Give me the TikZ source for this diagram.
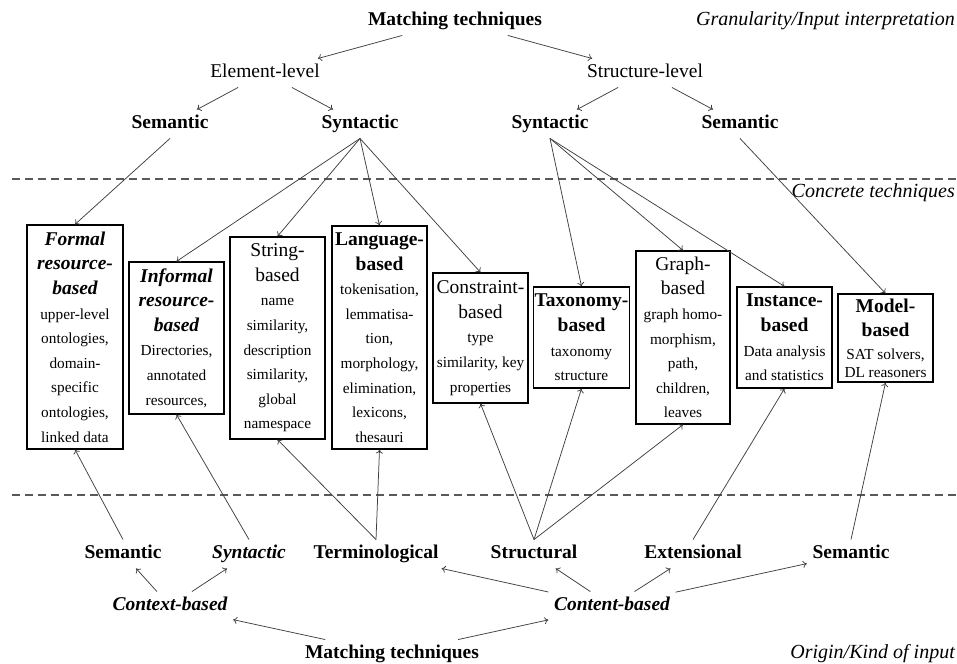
\documentclass[tikz,border=0pt]{standalone}
\usepackage{fontspec}
\setmainfont{Liberation Serif}
\usetikzlibrary{arrows.meta}
\newcommand\boxtitle{\fontsize{19.5}{24.6}\selectfont}
\begin{document}
\begin{tikzpicture}[x=1pt,y=-1pt,
  lbl/.style={font=\fontsize{19.5}{22}\selectfont\bfseries, inner sep=5.5pt, text height=13.6pt, text depth=3.9pt},
  lvl/.style={lbl, font=\fontsize{19.5}{22}\selectfont},
  lbli/.style={lbl, font=\fontsize{19.5}{22}\selectfont\bfseries\itshape},
  note/.style={font=\fontsize{20}{22}\selectfont\itshape, anchor=east, inner sep=0pt},
  tbox/.style={draw, line width=1.2pt, inner sep=1pt, align=center, font=\fontsize{15.3}{24.6}\selectfont},
  arr/.style={draw=black!75, line width=0.75pt, -{To[length=4pt,width=7pt]}},
  sep/.style={draw=black!65, line width=1.3pt, dash pattern=on 8pt off 5pt}
]
\useasboundingbox (0,0) rectangle (957,663);
\fill[white] (0,0) rectangle (957,663);

% separators
\draw[sep] (12,179) -- (957,179);
\draw[sep] (12,495) -- (957,495);

% top labels
\node[lbl] (mt1) at (455,21) {Matching techniques};
\node[note] (gran) at (955,21) {Granularity/Input interpretation};
\node[lvl] (el) at (265,73) {Element-level};
\node[lvl] (sl) at (645,73) {Structure-level};
\node[lbl] (sem1) at (170,124) {Semantic};
\node[lbl] (syn1) at (360,124) {Syntactic};
\node[lbl] (syn2) at (550,124) {Syntactic};
\node[lbl] (sem2) at (740,124) {Semantic};
\node[note] (conc) at (955,193) {Concrete techniques};

% boxes
\node[tbox, minimum width=96pt, minimum height=224pt] (formal) at (75,337)
  {{\boxtitle\bfseries\itshape Formal}\\{\boxtitle\bfseries\itshape resource-}\\{\boxtitle\bfseries\itshape based}\\upper-level\\ontologies,\\domain-\\specific\\ontologies,\\linked data};
\node[tbox, minimum width=95pt, minimum height=152pt] (informal) at (176.5,338)
  {{\boxtitle\bfseries\itshape Informal}\\{\boxtitle\bfseries\itshape resource-}\\{\boxtitle\bfseries\itshape based}\\Directories,\\annotated\\resources,};
\node[tbox, minimum width=95pt, minimum height=202pt] (string) at (277.5,338)
  {{\boxtitle String-}\\{\boxtitle based}\\name\\similarity,\\description\\similarity,\\global\\namespace};
\node[tbox, minimum width=95pt, minimum height=223pt] (language) at (379.5,337.5)
  {{\boxtitle\bfseries Language-}\\{\boxtitle\bfseries based}\\tokenisation,\\lemmatisa-\\tion,\\morphology,\\elimination,\\lexicons,\\thesauri};
\node[tbox, minimum width=95pt, minimum height=130pt] (constraint) at (480.5,338)
  {{\boxtitle Constraint-}\\{\boxtitle based}\\type\\similarity, key\\properties};
\node[tbox, minimum width=95pt, minimum height=101pt] (taxonomy) at (581.5,337.5)
  {{\boxtitle\bfseries Taxonomy-}\\{\boxtitle\bfseries based}\\taxonomy\\structure};
\node[tbox, minimum width=94pt, minimum height=173pt] (graph) at (683,337.5)
  {{\boxtitle Graph-}\\{\boxtitle based}\\graph homo-\\morphism,\\path,\\children,\\leaves};
\node[tbox, minimum width=95pt, minimum height=101pt] (instance) at (784.5,337.5)
  {{\boxtitle\bfseries Instance-}\\{\boxtitle\bfseries based}\\Data analysis\\and statistics};
\node[tbox, minimum width=95pt, minimum height=88pt] (model) at (885.5,338)
  {{\boxtitle\bfseries Model-}\\{\boxtitle\bfseries based}\\[-2pt]SAT solvers,\\[-7pt]DL reasoners};

% bottom labels
\node[lbl] (bsem) at (123,554) {Semantic};
\node[lbli] (bsyn) at (249,554) {Syntactic};
\node[lbl] (term) at (376,554) {Terminological};
\node[lbl] (struc) at (534,554) {Structural};
\node[lbl] (ext) at (693,554) {Extensional};
\node[lbl] (bsem2) at (851,554) {Semantic};
\node[lbli] (ctx) at (170,606) {Context-based};
\node[lbli] (cont) at (612,606) {Content-based};
\node[lbl] (mt2) at (392,654) {Matching techniques};
\node[note] (orig) at (955,654) {Origin/Kind of input};

% top tree
\draw[arr] (mt1) -- (el);
\draw[arr] (mt1) -- (sl);
\draw[arr] (el) -- (sem1);
\draw[arr] (el) -- (syn1);
\draw[arr] (sl) -- (syn2);
\draw[arr] (sl) -- (sem2);

% top to boxes
\draw[arr] (sem1.south) -- (formal.north);
\draw[arr] (syn1.south) -- (informal.north);
\draw[arr] (syn1.south) -- (string.north);
\draw[arr] (syn1.south) -- (language.north);
\draw[arr] (syn1.south) -- (constraint.north);
\draw[arr] (syn2.south) -- (taxonomy.north);
\draw[arr] (syn2.south) -- (graph.north);
\draw[arr] (syn2.south) -- (instance.north);
\draw[arr] (sem2.south) -- (model.north);

% bottom to boxes
\draw[arr] (bsem.north) -- (formal.south);
\draw[arr] (bsyn.north) -- (informal.south);
\draw[arr] (term.north) -- (string.south);
\draw[arr] (term.north) -- (language.south);
\draw[arr] (struc.north) -- (constraint.south);
\draw[arr] (struc.north) -- (taxonomy.south);
\draw[arr] (struc.north) -- (graph.south);
\draw[arr] (ext.north) -- (instance.south);
\draw[arr] (bsem2.north) -- (model.south);

% bottom tree
\draw[arr] (ctx) -- (bsem);
\draw[arr] (ctx) -- (bsyn);
\draw[arr] (cont) -- (term);
\draw[arr] (cont) -- (struc);
\draw[arr] (cont) -- (ext);
\draw[arr] (cont) -- (bsem2);
\draw[arr] (mt2) -- (ctx);
\draw[arr] (mt2) -- (cont);
\end{tikzpicture}
\end{document}
